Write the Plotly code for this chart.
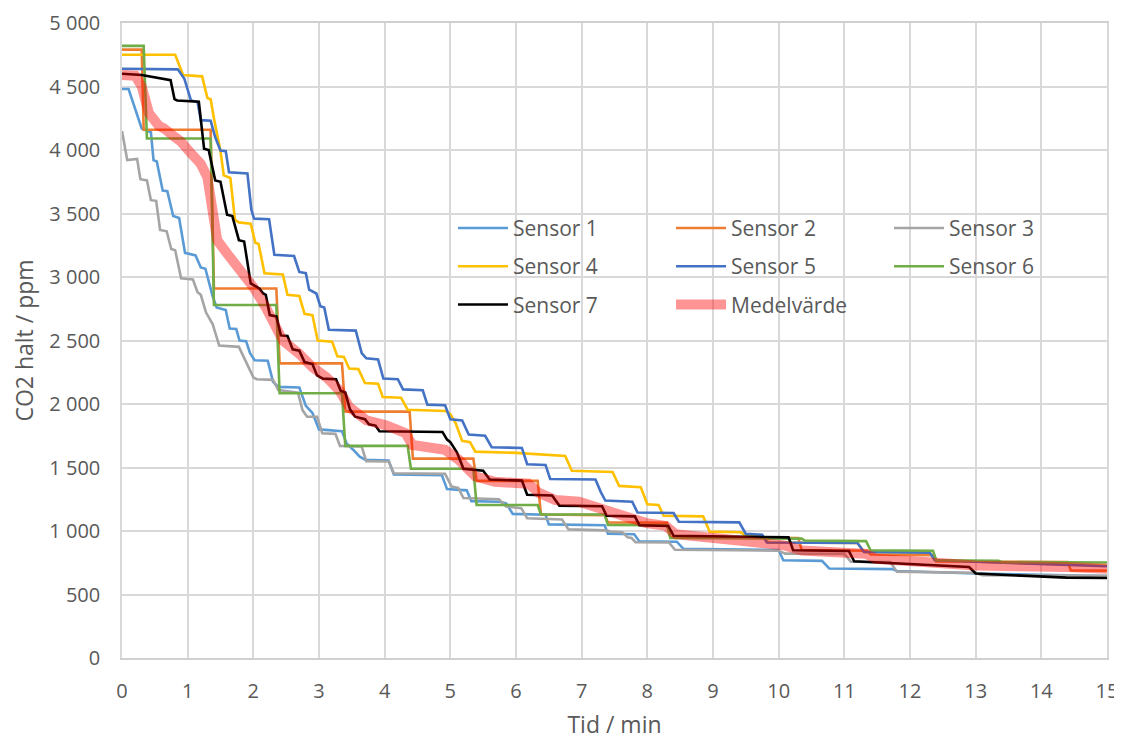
import plotly.graph_objects as go

# ---------------- data ----------------
s1_t = [0, 0.1, 0.3, 0.38, 0.44, 0.48, 0.53, 0.62, 0.69, 0.78, 0.87, 0.96, 1.04, 1.12, 1.2, 1.27, 1.38, 1.44,
        1.58, 1.64, 1.74, 1.79, 1.89, 1.95, 2.02, 2.22, 2.3, 2.38, 2.7, 2.8, 2.9, 3.0, 3.35, 3.42, 3.52, 3.62,
        3.71, 4.06, 4.14, 4.87, 4.95, 5.25, 5.32, 5.75, 5.85, 5.95, 6.45, 6.5, 7.35, 7.4, 7.8, 7.88, 8.45, 8.55,
        10.0, 10.07, 10.66, 10.77, 11.73, 11.8, 13.0, 15.0]
s1_v = [4480, 4480, 4170, 4150, 4140, 3920, 3910, 3680, 3675, 3480, 3465, 3190, 3180, 3170, 3075, 3065, 2850, 2760,
        2740, 2595, 2590, 2500, 2495, 2400, 2345, 2340, 2175, 2135, 2130, 1985, 1930, 1800, 1785, 1690, 1640, 1585,
        1560, 1555, 1445, 1440, 1330, 1320, 1235, 1230, 1218, 1135, 1128, 1052, 1045, 978, 975, 918, 915, 860,
        850, 770, 765, 705, 700, 685, 665, 645]

s2_t = [0, 0.3, 0.33, 1.35, 1.4, 2.35, 2.4, 3.35, 3.4, 4.38, 4.43, 5.35, 5.4, 6.33, 6.38, 7.35, 7.4, 8.3, 8.35,
        10.3, 10.35, 11.35, 11.4, 12.35, 12.4, 14.4, 14.45, 15]
s2_v = [4790, 4790, 4160, 4160, 2910, 2910, 2320, 2320, 1940, 1940, 1570, 1570, 1395, 1395, 1130, 1125, 1068, 1065,
        950, 945, 850, 845, 815, 810, 760, 755, 690, 688]

s3_t = [0, 0.08, 0.23, 0.28, 0.38, 0.44, 0.52, 0.58, 0.68, 0.75, 0.81, 0.9, 1.08, 1.15, 1.2, 1.28, 1.38, 1.48,
        1.78, 1.85, 1.92, 2.0, 2.05, 2.3, 2.38, 2.68, 2.75, 2.82, 2.97, 3.05, 3.25, 3.32, 3.65, 3.72, 4.06, 4.14,
        4.92, 5.02, 5.12, 5.2, 5.74, 5.85, 6.08, 6.17, 6.7, 6.8, 7.36, 7.45, 7.62, 7.7, 7.76, 7.82, 8.33, 8.42,
        10.0, 10.1, 11.0, 11.1, 11.7, 11.8, 13.0, 13.1, 15]
s3_v = [4150, 3920, 3930, 3770, 3760, 3605, 3600, 3370, 3360, 3220, 3210, 2990, 2980, 2880, 2860, 2720, 2630, 2460,
        2450, 2370, 2300, 2210, 2195, 2190, 2110, 2090, 1950, 1900, 1900, 1770, 1765, 1670, 1665, 1550, 1547, 1455,
        1450, 1350, 1340, 1260, 1250, 1192, 1180, 1100, 1090, 1013, 1005, 995, 990, 950, 945, 912, 910, 852,
        845, 822, 820, 758, 755, 680, 670, 652, 648]

s4_t = [0, 0.81, 0.93, 1.22, 1.3, 1.35, 1.4, 1.5, 1.55, 1.65, 1.72, 1.78, 1.96, 2.03, 2.08, 2.17, 2.45, 2.52, 2.7,
        2.78, 2.9, 2.98, 3.2, 3.28, 3.38, 3.46, 3.6, 3.7, 3.9, 3.97, 4.25, 4.35, 4.93, 5.0, 5.08, 5.18, 5.3, 5.38,
        6.0, 6.75, 6.85, 7.47, 7.57, 7.9, 8.0, 8.17, 8.25, 8.85, 8.95, 9.42, 9.5, 9.75, 9.85, 11.2, 11.3, 12.3,
        12.38, 15.0]
s4_v = [4750, 4750, 4590, 4580, 4410, 4400, 4250, 3990, 3800, 3780, 3450, 3430, 3420, 3270, 3260, 3030, 3020, 2860,
        2850, 2710, 2700, 2500, 2490, 2375, 2370, 2280, 2275, 2165, 2160, 2055, 2050, 1955, 1945, 1920, 1850, 1710,
        1700, 1625, 1615, 1590, 1475, 1465, 1355, 1345, 1210, 1205, 1120, 1115, 995, 990, 965, 960, 910, 905, 835,
        830, 770, 726]

s5_t = [0, 0.85, 0.95, 1.05, 1.15, 1.2, 1.35, 1.42, 1.5, 1.58, 1.63, 1.91, 1.97, 2.01, 2.24, 2.32, 2.62, 2.7, 2.8,
        2.85, 2.96, 3.02, 3.08, 3.15, 3.56, 3.65, 3.72, 3.9, 3.98, 4.2, 4.28, 4.58, 4.65, 4.92, 5.0, 5.18, 5.28,
        5.53, 5.63, 6.09, 6.17, 6.45, 6.52, 7.21, 7.29, 7.36, 7.77, 7.85, 8.4, 8.48, 9.4, 9.5, 9.75, 9.82, 11.2,
        11.3, 12.3, 12.38, 15.0]
s5_v = [4640, 4635, 4560, 4390, 4380, 4235, 4230, 4100, 3995, 3990, 3825, 3815, 3530, 3460, 3455, 3175, 3165, 3040,
        3030, 2900, 2870, 2770, 2760, 2585, 2578, 2400, 2360, 2350, 2200, 2195, 2115, 2108, 1995, 1990, 1880, 1870,
        1760, 1750, 1660, 1654, 1526, 1520, 1410, 1405, 1308, 1240, 1231, 1146, 1142, 1073, 1068, 977, 970, 910,
        905, 835, 830, 770, 722]

s6_t = [0, 0.33, 0.38, 1.35, 1.4, 2.35, 2.4, 3.35, 3.4, 4.35, 4.4, 5.35, 5.4, 6.33, 6.38, 7.35, 7.4, 8.3, 8.35,
        10.35, 10.4, 11.33, 11.4, 12.35, 12.4, 13.35, 13.4, 15]
s6_v = [4820, 4820, 4090, 4090, 2780, 2780, 2085, 2085, 1670, 1670, 1490, 1490, 1205, 1205, 1130, 1130, 1048, 1045,
        945, 940, 925, 920, 848, 845, 770, 765, 755, 752]

s7_t = [0, 0.3, 0.74, 0.8, 0.84, 1.17, 1.25, 1.32, 1.42, 1.5, 1.6, 1.68, 1.78, 1.86, 1.96, 2.09, 2.15, 2.19, 2.25,
        2.35, 2.42, 2.52, 2.6, 2.7, 2.78, 2.9, 2.97, 3.06, 3.26, 3.33, 3.4, 3.47, 3.55, 3.7, 3.76, 3.86, 3.92,
        4.88, 4.95, 5.0, 5.1, 5.2, 5.5, 5.6, 6.09, 6.17, 6.55, 6.66, 7.31, 7.38, 7.81, 7.88, 8.32, 8.4, 10.15,
        10.22, 11.07, 11.15, 12.9, 13.0, 14.38, 15]
s7_v = [4600, 4590, 4550, 4400, 4390, 4380, 4010, 4000, 3760, 3750, 3490, 3480, 3290, 3280, 2950, 2910, 2870, 2860,
        2700, 2690, 2540, 2535, 2430, 2420, 2330, 2315, 2225, 2200, 2195, 2105, 2090, 1960, 1900, 1880, 1840, 1830,
        1785, 1780, 1720, 1700, 1620, 1490, 1475, 1405, 1397, 1285, 1280, 1200, 1195, 1120, 1115, 1045, 1040, 962,
        950, 848, 842, 762, 716, 665, 633, 630]

mean_t = [0, 0.2, 0.3, 0.41, 0.56, 0.64, 0.81, 0.89, 1.04, 1.2, 1.3, 1.35, 1.38, 1.45, 1.6, 1.81, 2.0, 2.19, 2.35,
          2.45, 2.7, 2.9, 3.11, 3.31, 3.46, 3.72, 4.02, 4.23, 4.32, 4.42, 4.72, 4.92, 5.13, 5.23, 5.38, 5.68, 6.19,
          6.35, 6.6, 6.96, 7.36, 7.72, 7.97, 8.28, 8.43, 9.39, 10.1, 10.36, 11.33, 11.48, 12.35, 13.0, 14.38, 15]
mean_v = [4590, 4585, 4500, 4290, 4190, 4170, 4100, 4070, 3980, 3890, 3785, 3630, 3440, 3290, 3185, 3050, 2920, 2760,
          2605, 2500, 2395, 2290, 2212, 2107, 1976, 1872, 1832, 1800, 1770, 1678, 1665, 1639, 1560, 1508, 1430, 1388,
          1372, 1300, 1244, 1231, 1167, 1103, 1064, 1040, 975, 925, 885, 846, 820, 781, 755, 729, 716, 703]

names = ["Sensor 1", "Sensor 2", "Sensor 3", "Sensor 4", "Sensor 5", "Sensor 6", "Sensor 7", "Medelvärde"]
x_ticks = list(range(0, 16))
y_ticks = list(range(0, 5001, 500))
y_tick_text = ["0", "500", "1 000", "1 500", "2 000", "2 500", "3 000", "3 500", "4 000", "4 500", "5 000"]

series = [(s1_t, s1_v), (s2_t, s2_v), (s3_t, s3_v), (s4_t, s4_v), (s5_t, s5_v), (s6_t, s6_v), (s7_t, s7_v),
          (mean_t, mean_v)]
for t, v in series:
    assert len(t) == len(v)

# ---------------- styling ----------------
colors = ["#5B9BD5", "#ED7D31", "#A5A5A5", "#FFC000", "#4472C4", "#70AD47", "#000000", "rgba(255,0,0,0.42)"]
widths = [2.6, 2.6, 2.6, 2.6, 2.6, 2.6, 2.6, 10]
legend_of = ["legend", "legend2", "legend3", "legend", "legend2", "legend3", "legend", "legend2"]
FONT = "Open Sans"
TXT = "#595959"

fig = go.Figure()
for i, (t, v) in enumerate(series):
    fig.add_trace(go.Scatter(
        x=t, y=v, mode="lines", name=names[i],
        line=dict(color=colors[i], width=widths[i]),
        legend=legend_of[i], legendgroup=names[i],
    ))

leg_common = dict(font=dict(family=FONT, size=21, color=TXT), bgcolor="rgba(0,0,0,0)",
                  borderwidth=0, tracegroupgap=8, xanchor="left", yanchor="top", itemwidth=50)
fig.update_layout(
    width=1114, height=732,
    margin=dict(l=114, r=15, t=15, b=82, autoexpand=False),
    paper_bgcolor="white", plot_bgcolor="white",
    font=dict(family=FONT, color=TXT),
    legend=dict(x=0.336, y=0.709, **leg_common),
    legend2=dict(x=0.5574, y=0.709, **leg_common),
    legend3=dict(x=0.7787, y=0.709, **leg_common),
    xaxis=dict(range=[0, 15], tickvals=x_ticks, ticktext=[str(v) for v in x_ticks],
               showgrid=True, gridcolor="#D9D9D9", gridwidth=1.5, zeroline=False,
               showline=True, linecolor="#D0D0D0", linewidth=1.5, mirror=True,
               ticks="", ticklabelstandoff=14, tickfont=dict(family=FONT, size=20, color=TXT),
               title=dict(text="Tid / min", font=dict(family=FONT, size=23, color=TXT), standoff=18),
               automargin=False),
    yaxis=dict(range=[0, 5000], tickvals=y_ticks, ticktext=y_tick_text,
               showgrid=True, gridcolor="#D9D9D9", gridwidth=1.5, zeroline=False,
               showline=True, linecolor="#D9D9D9", linewidth=1.5, mirror=True,
               ticks="", ticklabelstandoff=16, tickfont=dict(family=FONT, size=20, color=TXT),
               title=dict(text="CO2 halt / ppm", font=dict(family=FONT, size=23, color=TXT), standoff=10),
               automargin=False),
)
fig.write_html("out.html")
